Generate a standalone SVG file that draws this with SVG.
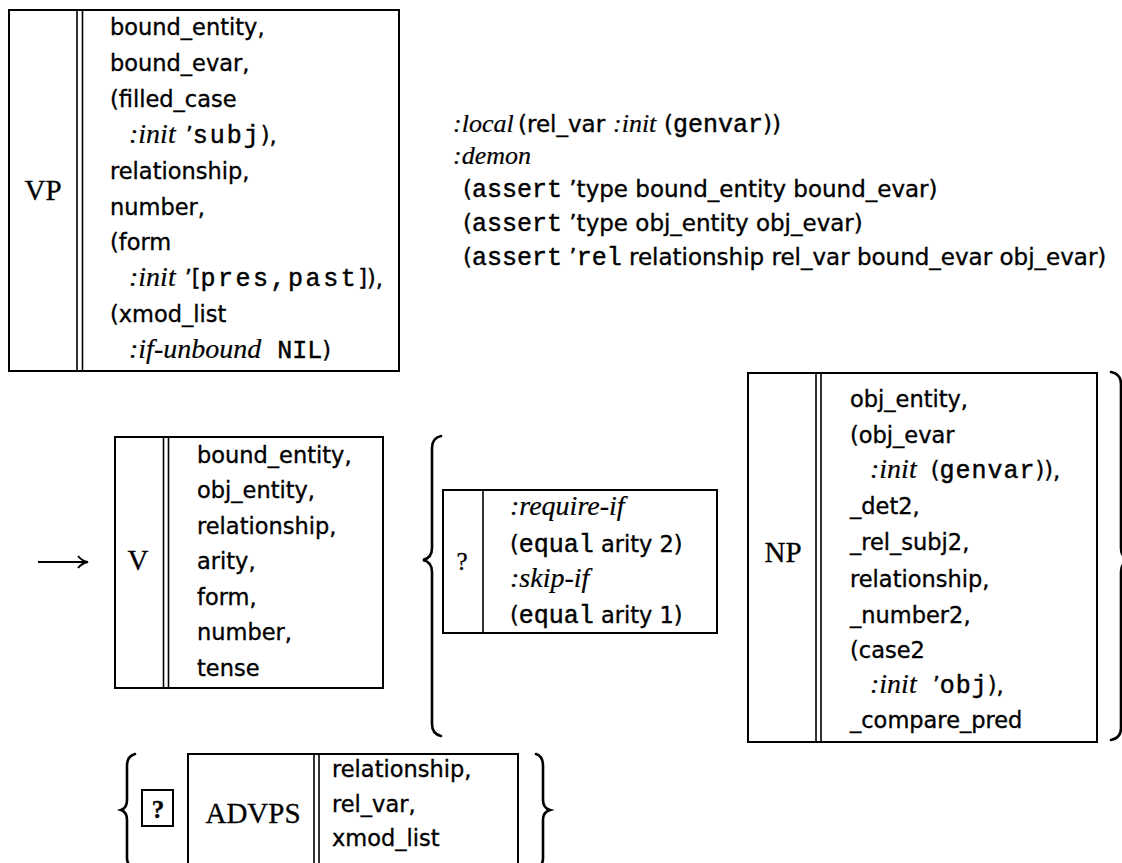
<svg xmlns="http://www.w3.org/2000/svg" width="1122" height="863" viewBox="0 0 1122 863">
<style>
.box{fill:none;stroke:#000;stroke-width:2}
.dv{stroke:#000;stroke-width:1.6}
.br{fill:none;stroke:#000;stroke-width:2.6;stroke-linecap:round}
text{fill:#000}
.s{font-family:"DejaVu Sans",sans-serif;font-size:22.5px;stroke:#000;stroke-width:0.35}
.d{font-size:23px}
.i{font-family:"Liberation Serif",serif;font-style:italic;font-size:28px;stroke-width:0.2}
.t{font-family:"Liberation Mono",monospace;font-size:25px;stroke-width:0.45}
.lbl{font-family:"Liberation Serif",serif;font-size:29px;text-anchor:middle;stroke:#000;stroke-width:0.3}
</style>
<rect width="1122" height="863" fill="#fff"/>

<g id="vp">
<rect class="box" x="9" y="10" width="390" height="361"/>
<line class="dv" x1="77" y1="10" x2="77" y2="371"/>
<line class="dv" x1="82.5" y1="10" x2="82.5" y2="371"/>
<text class="lbl" x="43" y="200">VP</text>
<text class="s" x="110" y="35">bound_entity,</text>
<text class="s" x="110" y="70.9">bound_evar,</text>
<text class="s" x="110" y="106.8">(filled_case</text>
<text class="s" x="129" y="142.7"><tspan class="i">:init</tspan><tspan dx="10">’</tspan><tspan class="t" style="letter-spacing:2px">subj</tspan>),</text>
<text class="s" x="110" y="178.6">relationship,</text>
<text class="s" x="110" y="214.5">number,</text>
<text class="s" x="110" y="250.4">(form</text>
<text class="s" x="129" y="286.3"><tspan class="i">:init</tspan><tspan dx="9">’[</tspan><tspan class="t" style="letter-spacing:2.5px">pres,past</tspan>]),</text>
<text class="s" x="110" y="322.2">(xmod_list</text>
<text class="s" x="129" y="358.1"><tspan class="i">:if-unbound</tspan><tspan class="t" dx="16">NIL</tspan>)</text>
</g>

<g id="vp-local-demon">
<text class="s d" x="453" y="132"><tspan class="i" style="font-size:26px">:local</tspan><tspan x="518">(rel_var</tspan><tspan class="i" x="613" style="font-size:26px">:init</tspan><tspan x="664">(</tspan><tspan class="t">genvar</tspan>))</text>
<text class="s i" x="453" y="164" style="font-size:26px">:demon</text>
<text class="s d" x="463" y="197">(<tspan class="t">assert</tspan> ’type bound_entity bound_evar)</text>
<text class="s d" x="463" y="231">(<tspan class="t">assert</tspan> ’type obj_entity obj_evar)</text>
<text class="s d" x="463" y="265">(<tspan class="t">assert</tspan> ’<tspan class="t">rel</tspan> relationship rel_var bound_evar obj_evar)</text>
</g>

<g id="connectors">
<line x1="38" y1="562" x2="85" y2="562" stroke="#000" stroke-width="2.2"/>
<path d="M78 556 Q82 561 88 562 Q82 563 78 568" fill="none" stroke="#000" stroke-width="2"/>
</g>

<g id="v">
<rect class="box" x="115" y="437" width="268" height="251"/>
<line class="dv" x1="163.5" y1="437" x2="163.5" y2="688"/>
<line class="dv" x1="168.5" y1="437" x2="168.5" y2="688"/>
<text class="lbl" x="138" y="570">V</text>
<text class="s" x="197" y="462.5">bound_entity,</text>
<text class="s" x="197" y="498">obj_entity,</text>
<text class="s" x="197" y="533.5">relationship,</text>
<text class="s" x="197" y="569">arity,</text>
<text class="s" x="197" y="604.5">form,</text>
<text class="s" x="197" y="640">number,</text>
<text class="s" x="197" y="675.5">tense</text>
</g>

<g id="brackets">
<path class="br" d="M441 436 Q432 438 432 448 L432 548 Q432 558 423 560 Q432 562 432 572 L432 724 Q432 734 441 736"/>
<path class="br" d="M1111 372 Q1121 374 1121 384 L1121 548 Q1121 558 1130 560 Q1121 562 1121 572 L1121 728 Q1121 738 1111 740"/>
<path class="br" d="M135 754 Q127 756 127 766 L127 800 Q127 808 121 810 Q127 812 127 820 L127 858 Q127 866 135 868"/>
<path class="br" d="M536 754 Q543 756 543 766 L543 800 Q543 808 550 810 Q543 812 543 820 L543 858 Q543 866 536 868"/>
</g>

<g id="arity-cond">
<rect class="box" x="443" y="490" width="274" height="143"/>
<line class="dv" x1="483" y1="490" x2="483" y2="633"/>
<text class="lbl" x="462" y="570" style="font-size:25px">?</text>
<text class="s i" x="510" y="515">:require-if</text>
<text class="s" x="510" y="552">(<tspan class="t">equal</tspan> arity 2)</text>
<text class="s i" x="510" y="587">:skip-if</text>
<text class="s" x="510" y="623">(<tspan class="t">equal</tspan> arity 1)</text>
</g>

<g id="np">
<rect class="box" x="748" y="373" width="349" height="369"/>
<line class="dv" x1="816" y1="373" x2="816" y2="742"/>
<line class="dv" x1="821" y1="373" x2="821" y2="742"/>
<text class="lbl" x="783" y="562">NP</text>
<text class="s" x="850" y="407">obj_entity,</text>
<text class="s" x="850" y="442.5">(obj_evar</text>
<text class="s" x="870" y="478"><tspan class="i">:init</tspan><tspan dx="14">(</tspan><tspan class="t" style="letter-spacing:1px">genvar</tspan>)),</text>
<text class="s" x="850" y="514">_det2,</text>
<text class="s" x="850" y="550">_rel_subj2,</text>
<text class="s" x="850" y="586.5">relationship,</text>
<text class="s" x="850" y="622.5">_number2,</text>
<text class="s" x="850" y="658">(case2</text>
<text class="s" x="870" y="693"><tspan class="i">:init</tspan><tspan dx="16">’</tspan><tspan class="t" style="letter-spacing:1px">obj</tspan>),</text>
<text class="s" x="850" y="728">_compare_pred</text>
</g>

<g id="advps-opt">
<rect class="box" x="142" y="790" width="31" height="36"/>
<text class="lbl" x="158" y="818" style="font-size:25px;font-weight:bold">?</text>
</g>

<g id="advps">
<rect class="box" x="188" y="754" width="330" height="120"/>
<line class="dv" x1="314" y1="754" x2="314" y2="874"/>
<line class="dv" x1="319" y1="754" x2="319" y2="874"/>
<text class="lbl" x="253" y="823">ADVPS</text>
<text class="s" x="332" y="777">relationship,</text>
<text class="s" x="332" y="812">rel_var,</text>
<text class="s" x="332" y="846">xmod_list</text>
</g>
</svg>
